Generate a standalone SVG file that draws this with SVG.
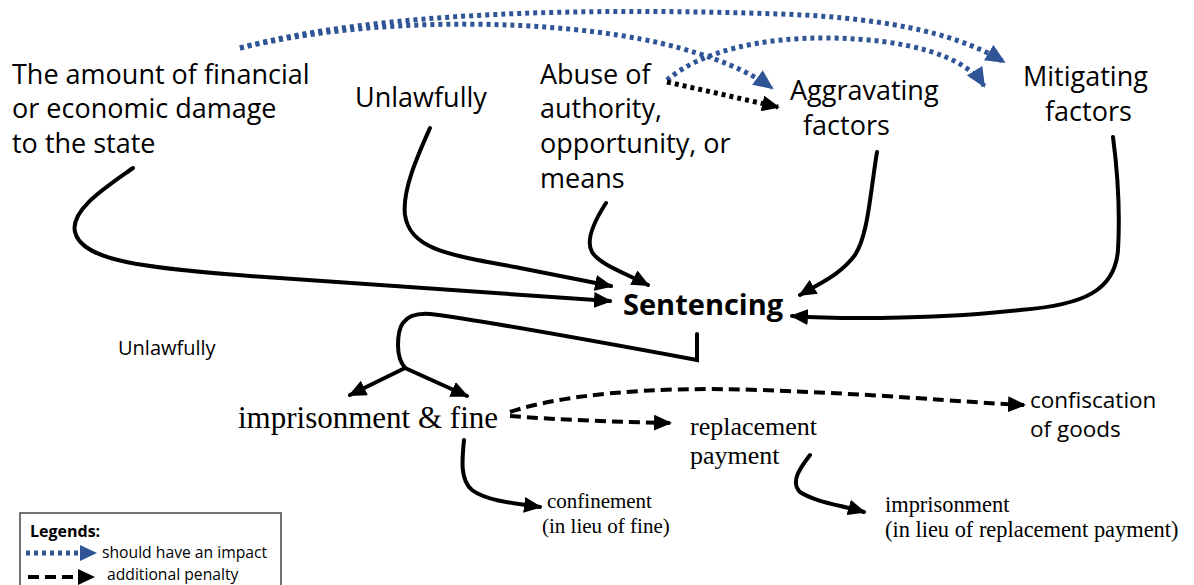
<svg xmlns="http://www.w3.org/2000/svg" width="1194" height="585" viewBox="0 0 1194 585">
<style>
.sans{font-family:"Open Sans","Liberation Sans",sans-serif;fill:#000}
.serif{font-family:"Liberation Serif","Times New Roman",serif;fill:#000}
.big{font-size:27px}
.solid{fill:none;stroke:#000;stroke-width:4;stroke-linecap:round}
.dash{fill:none;stroke:#000;stroke-width:4;stroke-dasharray:11 6}
.bdot{fill:none;stroke:#2F5597;stroke-width:5;stroke-dasharray:4 4}
.kdot{fill:none;stroke:#000;stroke-width:5;stroke-dasharray:4 4}
</style>
<defs>
<marker id="ak" markerUnits="userSpaceOnUse" markerWidth="20" markerHeight="16" refX="16" refY="8" orient="auto"><path d="M0,0 L18,8 L0,16 z" fill="#000"/></marker>
<marker id="ab" markerUnits="userSpaceOnUse" markerWidth="22" markerHeight="18" refX="18" refY="9" orient="auto"><path d="M0,0 L20,9 L0,18 z" fill="#2F5597"/></marker>
</defs>
<rect width="1194" height="585" fill="#fff"/>

<g id="connectors">
<path class="bdot" d="M240,48 C380,10 600,8 780,14 C900,18 965,38 1004,62" marker-end="url(#ab)"/>
<path class="bdot" d="M240,48 C380,14 560,20 660,43 C715,56 750,72 772,88" marker-end="url(#ab)"/>
<path class="bdot" d="M667,80 C700,52 760,37 830,38 C905,39 965,55 984,86" marker-end="url(#ab)"/>
<path class="kdot" d="M667,82 L778,107" marker-end="url(#ak)"/>
<path class="solid" d="M133,168 C105,188 70,210 75,232 C82,262 150,268 250,276 C380,286 500,294 610,301" marker-end="url(#ak)"/>
<path class="solid" d="M430,128 C418,155 402,190 405,215 C410,250 450,255 520,268 L611,286" marker-end="url(#ak)"/>
<path class="solid" d="M606,203 C595,220 585,240 592,252 C600,265 625,273 648,285" marker-end="url(#ak)"/>
<path class="solid" d="M877,152 C870,195 868,235 855,255 C840,275 820,283 800,295" marker-end="url(#ak)"/>
<path class="solid" d="M1113,137 C1118,175 1120,215 1118,250 C1115,290 1085,305 1020,310 C950,318 850,320 792,316" marker-end="url(#ak)"/>
<path class="solid" d="M697,334 L697,360 C600,342 480,320 430,314 C400,312 398,330 398,345 C398,355 400,362 405,368"/>
<path class="solid" d="M405,368 L350,395" marker-end="url(#ak)"/>
<path class="solid" d="M405,368 L467,396" marker-end="url(#ak)"/>
<path class="solid" d="M464,440 C462,460 460,480 472,490 C485,500 510,503 540,507" marker-end="url(#ak)"/>
<path class="solid" d="M810,455 C800,468 790,482 800,492 C815,502 840,505 864,512" marker-end="url(#ak)"/>
<path class="dash" d="M510,412 C560,395 650,386 760,390 C880,394 960,402 1024,405" marker-end="url(#ak)"/>
<path class="dash" d="M510,416 C560,420 620,422 670,423" marker-end="url(#ak)"/>
</g>

<g id="node-amount"><text class="sans big" x="12" y="84">The amount of financial</text><text class="sans big" x="12" y="118">or economic damage</text><text class="sans big" x="12" y="153">to the state</text></g>
<g id="node-unlawfully"><text class="sans big" x="355" y="107">Unlawfully</text></g>
<g id="node-abuse"><text class="sans big" x="540" y="84">Abuse of</text><text class="sans big" x="540" y="118">authority,</text><text class="sans big" x="540" y="153">opportunity, or</text><text class="sans big" x="540" y="188">means</text></g>
<g id="node-aggravating"><text class="sans big" x="790" y="100">Aggravating</text><text class="sans big" x="803" y="135">factors</text></g>
<g id="node-mitigating"><text class="sans big" x="1023" y="86">Mitigating</text><text class="sans big" x="1045" y="121">factors</text></g>
<g id="node-sentencing"><text class="sans" x="623" y="315" font-size="29" font-weight="bold">Sentencing</text></g>
<g id="node-unlawfully2"><text class="sans" x="118" y="355" font-size="20">Unlawfully</text></g>
<g id="node-impfine"><text class="serif" x="238" y="428" font-size="31">imprisonment &amp; fine</text></g>
<g id="node-confiscation"><text class="sans" x="1030" y="408" font-size="22.5">confiscation</text><text class="sans" x="1030" y="437" font-size="22.5">of goods</text></g>
<g id="node-replacement"><text class="serif" x="690" y="435" font-size="26">replacement</text><text class="serif" x="690" y="464" font-size="26">payment</text></g>
<g id="node-confinement"><text class="serif" x="547" y="508" font-size="21">confinement</text><text class="serif" x="542" y="533" font-size="21">(in lieu of fine)</text></g>
<g id="node-imprisonment2"><text class="serif" x="885" y="512" font-size="22.4">imprisonment</text><text class="serif" x="885" y="537" font-size="22.4">(in lieu of replacement payment)</text></g>

<g id="legend">
<rect x="20" y="513" width="261" height="90" fill="#fff" stroke="#444" stroke-width="1.5"/>
<text class="sans" x="30" y="537" font-size="16" font-weight="bold">Legends:</text>
<path class="bdot" d="M26,553 L82,553" stroke-width="5"/>
<path d="M80,545 L97,553 L80,561 z" fill="#2F5597"/>
<text class="sans" x="102" y="558" font-size="15.7">should have an impact</text>
<path class="dash" d="M28,577 L80,577" stroke-dasharray="14 6" stroke-width="5"/>
<path d="M78,569 L95,577 L78,585 z" fill="#000"/>
<text class="sans" x="107" y="580" font-size="15.7">additional penalty</text>
</g>
</svg>
